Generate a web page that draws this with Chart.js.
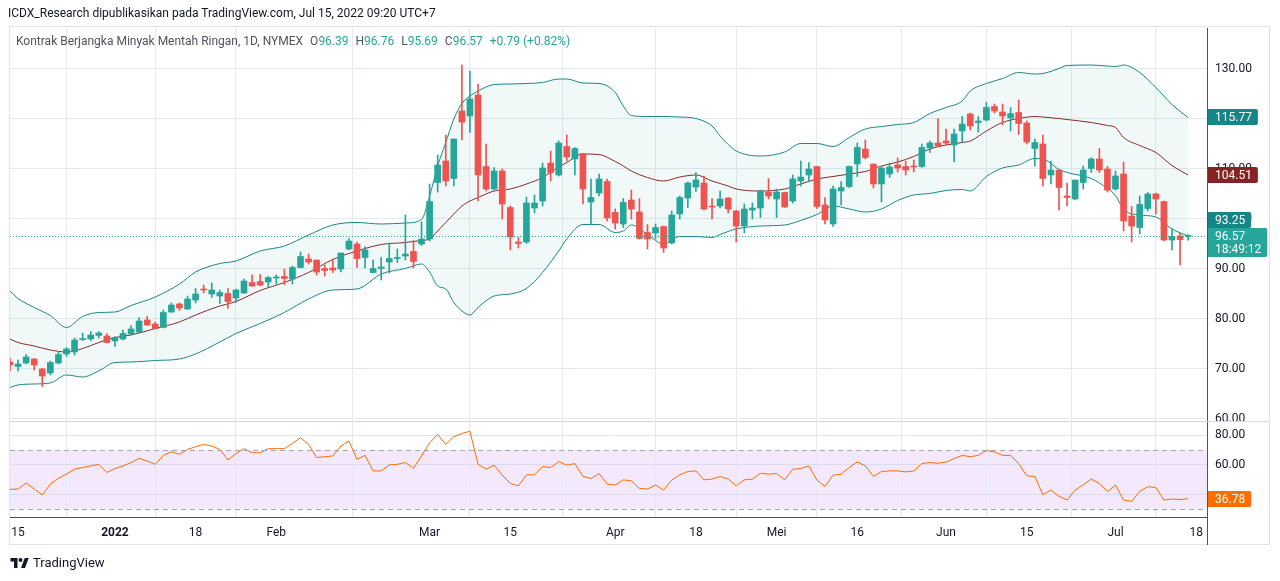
<!DOCTYPE html>
<html>
<head>
<meta charset="utf-8">
<script src="https://cdn.jsdelivr.net/npm/chart.js@4.4.0/dist/chart.umd.min.js"></script>
<style>
    body { margin: 0; background: #fff; font-family: Roboto, 'Liberation Sans', sans-serif; }
    #wrap { position: relative; width: 1280px; height: 581px; overflow: hidden; }
    #chart { position: absolute; left: 0; top: 0; }
    .hdr { position: absolute; left: 8px; top: 6px; font-size: 12px; color: #131722; white-space: nowrap; }
    .leg { position: absolute; left: 16px; top: 34px; font-size: 12px; color: #50535e; white-space: nowrap; }
    .leg span { margin-left: 7px; }
    .leg b { font-weight: normal; color: #26a69a; }
    .logo { position: absolute; left: 10px; top: 555px; font-size: 13px; color: #131722; display: flex; align-items: center; }
    .logo svg { margin-right: 4px; }
</style>
</head>
<body>
<div id="wrap">
    <canvas id="chart" width="1280" height="581"></canvas>
    <div class="hdr">ICDX_Research dipublikasikan pada TradingView.com, Jul 15, 2022 09:20 UTC+7</div>
    <div class="leg" id="legend"></div>
    <div class="logo">
        <svg width="19" height="14" viewBox="0 0 36 28"><path d="M14 24H7V11H0V4h14v20zM29 24h-8l7.5-20h8L29 24z" fill="#131722"/><circle cx="20" cy="8" r="4" fill="#131722"/></svg>
        TradingView
    </div>
</div>
<script>
// daily candles, Dec 14 2021 .. Jul 15 2022 (trading day index 0..146)
const opens = [
    71.3, 70.4, 71.1, 71.9, 69.9, 69.1, 71.1, 72.9, 73.3, 75.8,
    75.9, 76.6, 76.5, 75.5, 75.9, 76.9, 77.3, 79.7, 78.9, 78.2,
    81.3, 82.9, 81.9, 83.7, 85.8, 84.9, 84.5, 85.0, 84.1, 85.1,
    87.2, 87.4, 87.3, 88.1, 88.4, 87.9, 90.2, 91.9, 91.7, 90.0,
    90.1, 89.9, 93.9, 94.9, 92.2, 89.2, 90.0, 91.3, 92.0, 92.5,
    93.4, 94.9, 95.9, 107.2, 111.5, 108.0, 121.5, 120.5, 124.7, 110.4,
    105.9, 109.5, 102.2, 95.3, 95.3, 102.1, 103.5, 111.1, 108.7, 114.4,
    111.9, 113.0, 103.3, 105.1, 107.4, 101.2, 98.9, 103.7, 101.3, 97.2,
    97.1, 98.4, 95.1, 100.9, 104.1, 106.3, 107.1, 102.4, 102.5, 104.1,
    101.5, 98.5, 101.7, 102.1, 105.3, 103.9, 105.2, 103.5, 107.5, 108.7,
    110.4, 102.7, 98.9, 105.5, 106.4, 110.9, 113.9, 110.9, 106.9, 108.9,
    110.7, 110.4, 110.4, 110.4, 114.1, 115.1, 115.5, 114.7, 117.5, 120.9,
    119.2, 119.7, 122.4, 121.3, 120.1, 121.2, 119.1, 114.0, 114.9, 108.7,
    109.7, 104.5, 103.9, 107.2, 110.0, 111.9, 109.9, 105.9, 108.9, 100.5,
    98.2, 102.0, 104.9, 103.4, 95.7, 96.5, 96.39
];
const highs = [
    72.1, 71.7, 72.8, 72.0, 70.0, 71.5, 73.3, 74.2, 76.1, 77.1,
    77.4, 77.4, 77.0, 76.4, 77.7, 78.6, 80.2, 80.4, 79.3, 81.7,
    83.1, 83.1, 84.5, 86.0, 86.7, 87.1, 85.7, 86.0, 85.9, 87.9,
    88.7, 88.8, 88.4, 88.7, 89.9, 90.5, 93.3, 92.9, 91.7, 90.7,
    91.9, 93.1, 96.0, 95.3, 94.4, 91.7, 92.2, 95.1, 93.9, 100.7,
    95.6, 99.3, 106.9, 112.7, 116.7, 115.9, 130.7, 129.5, 126.9, 114.9,
    110.2, 109.9, 102.5, 96.2, 104.3, 104.7, 111.1, 113.5, 115.5, 116.7,
    114.2, 113.0, 107.9, 108.9, 107.9, 101.9, 104.0, 105.7, 104.0, 98.8,
    98.9, 98.5, 101.5, 104.5, 107.3, 109.2, 108.5, 104.0, 105.5, 104.2,
    101.7, 102.9, 103.1, 105.7, 108.0, 105.9, 105.3, 108.7, 111.5, 111.2,
    110.4, 104.2, 106.5, 107.4, 110.5, 115.1, 115.7, 110.9, 110.4, 111.1,
    112.1, 111.5, 111.7, 114.9, 115.5, 120.0, 117.9, 117.9, 120.4, 121.1,
    120.4, 123.2, 122.9, 122.9, 122.2, 123.7, 119.5, 115.9, 116.7, 111.5,
    109.7, 107.1, 107.7, 110.5, 112.2, 114.0, 110.4, 109.5, 111.3, 102.4,
    104.5, 105.2, 105.1, 103.5, 98.0, 97.1, 96.76
];
const lows = [
    69.5, 69.5, 70.9, 69.7, 66.4, 68.7, 70.9, 72.4, 72.7, 75.6,
    75.6, 76.1, 75.1, 74.4, 75.7, 76.8, 77.0, 78.6, 77.9, 78.1,
    81.2, 81.6, 81.8, 83.1, 85.1, 84.2, 83.0, 82.0, 83.2, 85.0,
    86.4, 86.5, 86.4, 86.9, 86.8, 86.9, 90.1, 90.9, 88.7, 88.5,
    89.2, 89.3, 93.7, 90.2, 90.1, 89.1, 87.7, 89.1, 91.2, 91.7,
    90.1, 94.6, 95.5, 105.3, 106.5, 106.5, 115.7, 117.2, 103.5, 105.5,
    105.7, 99.9, 93.7, 94.1, 95.0, 101.1, 102.5, 107.5, 108.5, 111.5,
    108.7, 102.9, 98.7, 104.5, 99.5, 97.9, 98.2, 99.9, 95.9, 93.9,
    95.9, 93.2, 94.9, 99.9, 102.2, 105.4, 101.7, 99.9, 102.1, 101.1,
    95.3, 97.1, 99.9, 100.2, 103.9, 100.2, 102.2, 103.1, 106.5, 107.3,
    102.0, 98.9, 98.4, 102.7, 106.2, 108.4, 111.9, 106.1, 103.3, 108.2,
    109.3, 108.7, 109.3, 110.2, 113.2, 114.4, 114.7, 111.3, 115.2, 117.7,
    117.3, 119.5, 121.1, 118.7, 117.5, 116.8, 114.9, 110.5, 106.5, 106.9,
    101.7, 102.5, 103.7, 105.9, 109.2, 109.2, 105.3, 105.7, 97.5, 95.3,
    96.9, 101.5, 100.9, 95.5, 93.7, 90.7, 95.69
];
const closes = [
    70.7, 70.9, 72.3, 70.7, 68.5, 71.2, 72.8, 73.9, 75.7, 76.0,
    76.7, 77.1, 75.2, 76.2, 77.0, 77.9, 79.5, 78.7, 78.0, 81.2,
    82.7, 82.1, 83.9, 84.9, 85.7, 85.7, 85.2, 83.4, 85.7, 87.5,
    86.5, 86.7, 88.2, 88.3, 88.0, 90.2, 92.4, 91.3, 89.3, 89.6,
    89.7, 93.1, 95.5, 92.0, 93.7, 90.0, 90.3, 92.0, 92.1, 92.9,
    91.4, 95.9, 103.4, 110.7, 107.5, 115.9, 119.3, 123.9, 108.7, 105.9,
    109.5, 102.9, 96.3, 95.0, 103.1, 103.1, 110.1, 109.2, 115.1, 112.3,
    114.0, 105.9, 104.2, 107.9, 100.1, 99.1, 103.2, 101.9, 96.0, 95.9,
    98.2, 94.1, 100.7, 104.2, 107.1, 107.7, 101.9, 102.3, 103.9, 101.9,
    98.5, 101.9, 102.1, 105.5, 104.5, 105.3, 102.3, 107.9, 108.3, 109.9,
    102.4, 99.7, 105.9, 106.2, 110.4, 114.2, 112.2, 106.9, 110.1, 110.3,
    110.1, 109.7, 110.3, 114.2, 115.1, 114.5, 115.1, 116.9, 118.9, 118.5,
    119.5, 122.2, 121.5, 120.5, 121.0, 119.0, 115.3, 115.2, 108.0, 109.7,
    106.2, 104.2, 107.7, 109.7, 111.9, 109.7, 105.7, 108.5, 99.5, 98.5,
    102.8, 104.9, 103.9, 95.7, 96.4, 95.78, 96.57
];

// Bollinger bands at these bar indices
const bbIdx = [0, 1, 3, 5, 7, 9, 11, 13, 15, 18, 21, 23, 26, 28, 31, 34, 37, 40, 43, 46,
    49, 51, 52, 53, 54, 55, 56, 57, 58, 60, 62, 64, 66, 68, 69, 71, 73, 75, 76, 77,
    79, 81, 83, 85, 87, 88, 89, 90, 93, 96, 98, 100, 102, 104, 106, 108, 110, 112, 114, 116,
    118, 119, 121, 123, 125, 127, 128, 130, 131, 134, 136, 137, 138, 140, 142, 144, 146];
const bbUpper = [85.5, 84.0, 82.2, 80.6, 78.2, 80.4, 81.2, 81.3, 82.6, 84.3,
    86.9, 89.3, 91.0, 91.5, 93.5, 94.5, 96.7, 98.7, 99.2, 98.9,
    99.1, 99.8, 104.5, 110.5, 115.2, 119.9, 123.0, 124.5, 125.5, 126.8,
    126.9, 127.0, 127.2, 127.9, 127.9, 127.1, 127.0, 125.2, 122.5, 120.6,
    120.4, 120.4, 120.3, 120.0, 118.5, 116.5, 114.8, 113.5, 112.5, 113.3,
    115.0, 115.0, 114.4, 116.2, 117.9, 118.4, 118.8, 119.2, 121.0, 122.2,
    123.5, 125.5, 127.0, 128.0, 129.2, 128.9, 129.0, 130.0, 130.6, 130.7,
    130.5, 130.4, 130.7, 129.2, 126.2, 122.8, 120.2];
const bbBasis = [75.9, 75.2, 74.5, 73.7, 73.3, 74.0, 75.2, 76.2, 76.7, 78.0,
    79.3, 80.7, 82.5, 83.4, 85.6, 87.2, 89.2, 91.8, 93.5, 94.8,
    95.2, 95.6, 95.9, 97.5, 99.2, 100.9, 102.5, 103.5, 104.2, 105.5,
    105.9, 106.9, 108.2, 110.3, 111.2, 112.9, 112.8, 111.4, 110.5, 109.5,
    108.2, 107.5, 108.3, 108.7, 107.5, 107.0, 106.5, 105.9, 105.5, 105.9,
    106.9, 107.9, 108.4, 108.9, 109.4, 110.5, 111.3, 112.4, 113.9, 114.7,
    115.2, 115.5, 117.5, 119.2, 120.0, 120.4, 120.3, 120.0, 119.8, 119.2,
    118.6, 118.2, 116.2, 114.6, 113.2, 110.6, 108.7];
const bbLower = [66.2, 66.7, 66.9, 67.1, 68.7, 68.3, 69.5, 71.2, 71.3, 71.6,
    71.9, 72.9, 75.3, 77.0, 79.0, 81.2, 83.9, 85.7, 85.9, 88.9,
    90.0, 90.9, 89.3, 86.5, 85.9, 83.2, 81.5, 80.7, 82.2, 84.5,
    84.9, 86.0, 89.2, 93.5, 95.9, 98.8, 98.8, 97.2, 97.5, 98.7,
    96.8, 94.9, 96.4, 96.4, 96.2, 96.8, 97.4, 97.9, 98.5, 98.7,
    99.6, 100.8, 102.5, 101.9, 101.3, 101.9, 103.6, 104.7, 105.0, 105.6,
    105.8, 105.5, 108.4, 110.1, 110.7, 112.0, 111.9, 109.8, 109.2, 108.0,
    106.0, 104.6, 101.8, 100.7, 100.3, 97.9, 96.5];
// values printed in the axis badges (upper, basis, lower)
const bbLast = [115.77, 104.51, 93.25];

const rsi = [
    43.2, 43.4, 47.5, 43.4, 39.3, 46.8, 50.8, 53.6, 57.0, 58.1,
    59.2, 60.3, 54.7, 57.4, 59.2, 61.5, 64.4, 62.6, 60.3, 66.4,
    68.9, 67.1, 70.5, 72.3, 73.9, 72.8, 70.5, 63.3, 67.6, 71.0,
    68.2, 68.2, 71.0, 71.0, 71.0, 74.6, 78.4, 73.9, 64.9, 65.5,
    66.0, 72.8, 76.2, 63.7, 66.4, 55.8, 55.8, 59.9, 60.3, 61.5,
    57.6, 66.0, 75.0, 80.7, 73.9, 79.1, 81.4, 82.9, 60.3, 57.0,
    59.7, 52.9, 47.2, 45.6, 53.1, 53.1, 58.8, 58.1, 62.1, 59.7,
    60.8, 52.0, 50.6, 54.0, 46.8, 46.1, 49.7, 49.0, 43.8, 43.4,
    46.1, 42.7, 49.5, 53.1, 55.4, 55.8, 49.7, 50.2, 52.0, 50.2,
    45.6, 49.7, 50.2, 54.2, 53.6, 54.0, 49.7, 56.9, 57.4, 59.2,
    49.5, 45.2, 52.9, 53.6, 58.1, 61.9, 59.2, 52.0, 55.4, 55.8,
    55.8, 55.1, 55.8, 60.8, 61.5, 61.0, 61.9, 64.2, 66.4, 65.5,
    66.4, 69.8, 68.7, 66.4, 66.4, 60.8, 52.4, 52.0, 39.5, 42.7,
    38.4, 35.9, 42.7, 46.3, 50.2, 47.2, 41.6, 46.1, 35.9, 35.0,
    41.8, 45.0, 44.5, 35.9, 36.6, 36.2, 36.78
];
const rsiBand = [30, 70];

const tickIdx = [1, 13, 23, 33, 52, 62, 75, 85, 95, 105, 116, 126, 137, 147];
const tickText = ['15', '2022', '18', 'Feb', 'Mar', '15', 'Apr', '18', 'Mei', '16', 'Jun', '15', 'Jul', '18'];
const priceTicks = [60, 70, 80, 90, 100, 110, 120, 130];
const rsiTicks = [40, 60, 80];
const rsiTickShown = [60, 80];
const countdown = '18:49:12';

const UP = '#26a69a', DOWN = '#ef5350', BAND = '#1b8686', BASIS = '#882a2a', RSI_C = '#ff6d00';
const FONT = 'Roboto, "Liberation Sans", sans-serif';

var last = closes.length - 1;
var chg = closes[last] - closes[last - 1];
var pct = chg / closes[last - 1] * 100;
document.getElementById('legend').innerHTML =
    'Kontrak Berjangka Minyak Mentah Ringan, 1D, NYMEX' +
    '<span>O<b>' + opens[last].toFixed(2) + '</b></span>' +
    '<span>H<b>' + highs[last].toFixed(2) + '</b></span>' +
    '<span>L<b>' + lows[last].toFixed(2) + '</b></span>' +
    '<span>C<b>' + closes[last].toFixed(2) + '</b></span>' +
    '<span><b>+' + chg.toFixed(2) + ' (+' + pct.toFixed(2) + '%)</b></span>';

var candleColors = closes.map(function (c, i) { return c >= opens[i] ? UP : DOWN; });
var bodies = closes.map(function (c, i) { return { x: i, y: [opens[i], c] }; });
var wicks = closes.map(function (c, i) { return { x: i, y: [lows[i], highs[i]] }; });
function pts(vals) { return bbIdx.map(function (ix, k) { return { x: ix, y: vals[k] }; }); }

function badge(ctx, x, top, lines, bg) {
    ctx.font = '12px ' + FONT;
    var w = Math.max.apply(null, lines.map(function (s) { return ctx.measureText(s).width; })) + 13;
    var h = 16 + (lines.length - 1) * 13;
    ctx.fillStyle = bg;
    ctx.beginPath();
    ctx.roundRect(x, top, w, h, [0, 2, 2, 0]);
    ctx.fill();
    ctx.fillStyle = '#fff';
    ctx.textBaseline = 'middle';
    ctx.textAlign = 'left';
    lines.forEach(function (s, k) { ctx.fillText(s, x + 7, top + 8.5 + k * 13); });
}

const decor = {
    id: 'decor',
    beforeDraw: function (chart) {
        var ctx = chart.ctx, a = chart.chartArea, r = chart.scales.y2;
        var t = r.getPixelForValue(rsiBand[1]), b = r.getPixelForValue(rsiBand[0]);
        ctx.save();
        ctx.fillStyle = '#f4e9fc';
        ctx.fillRect(a.left, t, a.right - a.left, b - t);
        ctx.restore();
    },
    afterDatasetsDraw: function (chart) {
        var ctx = chart.ctx, a = chart.chartArea, r = chart.scales.y2, y = chart.scales.y;
        ctx.save();
        ctx.strokeStyle = '#a3a6af';
        ctx.lineWidth = 1;
        ctx.setLineDash([5, 4]);
        rsiBand.forEach(function (v) {
            var py = Math.round(r.getPixelForValue(v)) + 0.5;
            ctx.beginPath(); ctx.moveTo(a.left, py); ctx.lineTo(a.right, py); ctx.stroke();
        });
        // dotted last price line
        ctx.strokeStyle = UP;
        ctx.setLineDash([1, 2]);
        var cy = Math.round(y.getPixelForValue(closes[last])) + 0.5;
        ctx.beginPath(); ctx.moveTo(a.left, cy); ctx.lineTo(a.right, cy); ctx.stroke();
        ctx.restore();
    },
    afterDraw: function (chart) {
        var ctx = chart.ctx, a = chart.chartArea, y = chart.scales.y, r = chart.scales.y2;
        ctx.save();
        // pane separator
        var sep = Math.round(y.bottom) + 0.5;
        ctx.strokeStyle = '#d6d9e0';
        ctx.lineWidth = 1;
        ctx.beginPath(); ctx.moveTo(a.left, sep); ctx.lineTo(1269, sep); ctx.stroke();
        // outer frame
        ctx.strokeStyle = '#e0e3eb';
        ctx.strokeRect(9.5, 26.5, 1260, 518);
        // axis line continues through the time row
        ctx.strokeStyle = '#50535e';
        ctx.beginPath(); ctx.moveTo(a.right + 0.5, a.bottom); ctx.lineTo(a.right + 0.5, 545); ctx.stroke();

        var bx = a.right + 1;
        var cy = y.getPixelForValue(closes[last]);
        badge(ctx, bx, Math.round(y.getPixelForValue(bbUpper[bbUpper.length - 1])) - 8, [bbLast[0].toFixed(2)], '#168585');
        badge(ctx, bx, Math.round(y.getPixelForValue(bbBasis[bbBasis.length - 1])) - 8, [bbLast[1].toFixed(2)], '#872323');
        var lowY = Math.min(y.getPixelForValue(bbLower[bbLower.length - 1]), cy - 16);
        badge(ctx, bx, Math.round(lowY) - 8, [bbLast[2].toFixed(2)], '#168585');
        badge(ctx, bx, Math.round(cy) - 8, [closes[last].toFixed(2), countdown], UP);
        badge(ctx, bx, Math.round(r.getPixelForValue(rsi[last])) - 8, [rsi[last].toFixed(2)], RSI_C);
        ctx.restore();
    }
};

var ctx = document.getElementById('chart').getContext('2d');
var myChart = new Chart(ctx, {
    type: 'bar',
    plugins: [decor],
    data: {
        datasets: [{
            label: 'body',
            data: bodies,
            backgroundColor: candleColors,
            barThickness: 6,
            minBarLength: 1,
            grouped: false,
            order: 0
        }, {
            label: 'wick',
            data: wicks,
            backgroundColor: candleColors,
            barThickness: 1,
            grouped: false,
            order: 1
        }, {
            type: 'line',
            label: 'basis',
            data: pts(bbBasis),
            borderColor: BASIS,
            borderWidth: 1,
            pointRadius: 0,
            cubicInterpolationMode: 'monotone',
            order: 2
        }, {
            type: 'line',
            label: 'upper',
            data: pts(bbUpper),
            borderColor: BAND,
            borderWidth: 1,
            pointRadius: 0,
            cubicInterpolationMode: 'monotone',
            order: 3
        }, {
            type: 'line',
            label: 'lower',
            data: pts(bbLower),
            borderColor: BAND,
            borderWidth: 1,
            pointRadius: 0,
            cubicInterpolationMode: 'monotone',
            fill: 3,
            backgroundColor: 'rgba(0, 128, 128, 0.055)',
            order: 4
        }, {
            type: 'line',
            label: 'RSI',
            yAxisID: 'y2',
            data: rsi.map(function (v, i) { return { x: i, y: v }; }),
            borderColor: RSI_C,
            borderWidth: 1,
            pointRadius: 0,
            order: 5
        }]
    },
    options: {
        responsive: false,
        animation: false,
        layout: { padding: { left: 10, top: 28, right: 10, bottom: 36 } },
        plugins: {
            legend: { display: false },
            tooltip: { enabled: false }
        },
        scales: {
            x: {
                type: 'linear',
                min: 0,
                max: 148.34,
                offset: false,
                afterBuildTicks: function (s) { s.ticks = tickIdx.map(function (v) { return { value: v }; }); },
                afterFit: function (s) { s.height = 28; },
                grid: { color: '#e6eaf0', drawTicks: false },
                border: { color: '#50535e' },
                ticks: {
                    autoSkip: false,
                    maxRotation: 0,
                    padding: 9,
                    color: '#131722',
                    font: function (c) { return { family: FONT, size: 12, weight: c.index === 1 ? 'bold' : 'normal' }; },
                    callback: function (v, i) { return tickText[i]; }
                }
            },
            y: {
                position: 'right',
                stack: 'panes',
                stackWeight: 393,
                min: 59.5,
                max: 138.1,
                afterBuildTicks: function (s) { s.ticks = priceTicks.map(function (v) { return { value: v }; }); },
                afterFit: function (s) { s.width = 63; },
                grid: { color: '#e6eaf0', drawTicks: false },
                border: { color: '#50535e' },
                ticks: {
                    padding: 8,
                    color: '#131722',
                    font: { family: FONT, size: 12 },
                    callback: function (v) { return v.toFixed(2); }
                }
            },
            y2: {
                position: 'right',
                stack: 'panes',
                stackWeight: 96,
                min: 24.3,
                max: 89.9,
                afterBuildTicks: function (s) { s.ticks = rsiTicks.map(function (v) { return { value: v }; }); },
                afterFit: function (s) { s.width = 63; },
                grid: { color: 'rgba(200, 205, 220, 0.55)', drawTicks: false },
                border: { color: '#50535e' },
                ticks: {
                    padding: 8,
                    color: '#131722',
                    font: { family: FONT, size: 12 },
                    // the 40 label sits under the RSI badge
                    callback: function (v) { return rsiTickShown.indexOf(v) >= 0 ? v.toFixed(2) : ''; }
                }
            }
        }
    }
});
</script>
</body>
</html>
